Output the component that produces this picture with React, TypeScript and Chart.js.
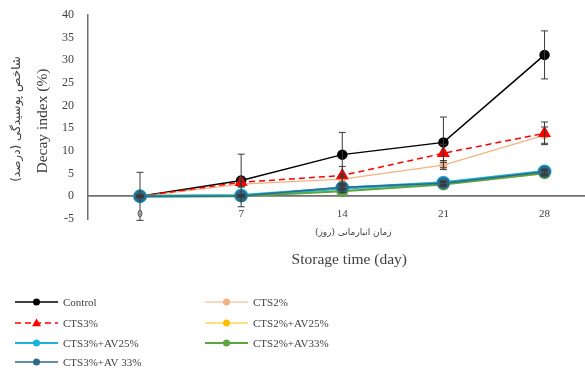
import React, { useEffect, useRef } from "react";
import { Chart, registerables } from "chart.js";
Chart.register(...registerables);

const days = [0, 7, 14, 21, 28];
const xTicks = [0, 7, 14, 21, 28];
const yTicks = [-5, 0, 5, 10, 15, 20, 25, 30, 35, 40];

const seriesNames = [
  "Control",
  "CTS2%",
  "CTS3%",
  "CTS2%+AV25%",
  "CTS3%+AV25%",
  "CTS2%+AV33%",
  "CTS3%+AV 33%",
];

const control = [0, 3.5, 9.2, 11.9, 31.2];
const cts2 = [0, 2.7, 3.8, 6.9, 13.5];
const cts3 = [0, 3.1, 4.6, 9.5, 13.9];
const cts2av25 = [0, 0.2, 1.2, 2.7, 5.0];
const cts3av25 = [0, 0.2, 1.8, 3.0, 5.5];
const cts2av33 = [0, 0, 1.1, 2.6, 5.1];
const cts3av33 = [0, 0.1, 2.0, 2.9, 5.4];

const controlErr = [5.3, 5.8, 4.9, 5.6, 5.3];
const cts2Err = [0.3, 0.6, 1.0, 1.0, 1.8];
const cts3Err = [0.3, 1.0, 2.0, 2.0, 2.5];
const smallErr = [0.1, 0.2, 0.3, 0.4, 0.5];

const values = [control, cts2, cts3, cts2av25, cts3av25, cts2av33, cts3av33];
const errors = [controlErr, cts2Err, cts3Err, smallErr, smallErr, smallErr, smallErr];

const colors = ["#000000", "#F4B183", "#FF0000", "#FFC000", "#19B4D8", "#5DA544", "#2E6A8A"];
const pointStyles = ["circle", "circle", "triangle", "circle", "circle", "circle", "circle"];
const pointRadii = [4.5, 3.5, 6, 3.5, 5.5, 5, 5.5];
const lineWidths = [1.5, 1.2, 1.5, 1.2, 3, 2, 1.5];
const dashes: number[][] = [[], [], [6, 4], [], [], [], []];

const xTitleFa = "زمان انبارمانی (روز)";
const xTitleEn = "Storage time (day)";
const yTitleFa = "شاخص پوسیدگی (درصد)";
const yTitleEn = "Decay index (%)";

const serif = "'Liberation Serif', 'DejaVu Serif', serif";
const faFont = "'DejaVu Sans', 'Noto Sans', sans-serif";

const errorBarPlugin = {
  id: "errorBars",
  afterDatasetsDraw(chart: any) {
    const ctx = chart.ctx;
    const xs = chart.scales.x;
    const ys = chart.scales.y;
    ctx.save();
    ctx.strokeStyle = "#3a3a3a";
    ctx.lineWidth = 1;
    errors.forEach((errs, di) => {
      errs.forEach((e, i) => {
        const x = xs.getPixelForValue(days[i]);
        const v = values[di][i];
        const yt = ys.getPixelForValue(v + e);
        const yb = ys.getPixelForValue(v - e);
        ctx.beginPath();
        ctx.moveTo(x, yt);
        ctx.lineTo(x, yb);
        ctx.moveTo(x - 3.5, yt);
        ctx.lineTo(x + 3.5, yt);
        ctx.moveTo(x - 3.5, yb);
        ctx.lineTo(x + 3.5, yb);
        ctx.stroke();
      });
    });
    ctx.restore();
  },
};

const textPlugin = {
  id: "texts",
  afterDraw(chart: any) {
    const ctx = chart.ctx;
    const xs = chart.scales.x;
    const area = chart.chartArea;
    ctx.save();
    ctx.fillStyle = "#404040";
    ctx.textAlign = "center";
    ctx.textBaseline = "middle";
    const cx = xs.getPixelForValue(14);
    ctx.font = `9px ${faFont}`;
    ctx.fillText(xTitleFa, cx + 11, area.bottom + 14);
    ctx.font = `15.5px ${serif}`;
    ctx.fillText(xTitleEn, cx + 7, area.bottom + 41);
    const cy = (area.top + area.bottom) / 2;
    ctx.save();
    ctx.translate(17, cy + 2);
    ctx.rotate(-Math.PI / 2);
    ctx.font = `12px ${faFont}`;
    ctx.fillText(yTitleFa, 0, 0);
    ctx.restore();
    ctx.save();
    ctx.translate(43, cy + 4);
    ctx.rotate(-Math.PI / 2);
    ctx.font = `15.5px ${serif}`;
    ctx.fillText(yTitleEn, 0, 0);
    ctx.restore();

    // legend (two columns)
    ctx.font = `11px ${serif}`;
    ctx.textAlign = "left";
    const rowY = [302, 323, 343, 362];
    const colX = [15, 205];
    chart.data.datasets.forEach((ds: any, i: number) => {
      const col = i % 2;
      const row = Math.floor(i / 2);
      const x0 = colX[col];
      const y = rowY[row];
      ctx.save();
      ctx.strokeStyle = ds.borderColor;
      ctx.lineWidth = Math.min(ds.borderWidth, 2);
      ctx.setLineDash(ds.borderDash || []);
      ctx.beginPath();
      ctx.moveTo(x0, y);
      ctx.lineTo(x0 + 43, y);
      ctx.stroke();
      ctx.restore();
      const style = ds.pointStyle;
      ctx.fillStyle = ds.pointBackgroundColor;
      ctx.beginPath();
      if (style === "triangle") {
        const r = 4.5;
        ctx.moveTo(x0 + 21.5, y - r);
        ctx.lineTo(x0 + 21.5 + r, y + r * 0.7);
        ctx.lineTo(x0 + 21.5 - r, y + r * 0.7);
        ctx.closePath();
      } else {
        ctx.arc(x0 + 21.5, y, 3.5, 0, Math.PI * 2);
      }
      ctx.fill();
      ctx.fillStyle = "#404040";
      ctx.fillText(ds.label, x0 + 48, y + 1);
    });
    ctx.restore();
  },
};

export default function App() {
  const ref = useRef<HTMLCanvasElement>(null);
  useEffect(() => {
    if (!ref.current) return;
    const chart = new Chart(ref.current, {
      type: "line",
      data: {
        datasets: seriesNames.map((name, i) => ({
          label: name,
          data: days.map((d, j) => ({ x: d, y: values[i][j] })),
          borderColor: colors[i],
          backgroundColor: colors[i],
          pointBackgroundColor: colors[i],
          pointBorderColor: colors[i],
          pointStyle: pointStyles[i] as any,
          pointRadius: pointRadii[i],
          borderWidth: lineWidths[i],
          borderDash: dashes[i],
          tension: 0,
          order: seriesNames.length - i,
        })),
      },
      options: {
        animation: false,
        responsive: false,
        maintainAspectRatio: false,
        layout: { autoPadding: false, padding: { left: 0, right: 0, top: 15, bottom: 151 } },
        plugins: { legend: { display: false }, tooltip: { enabled: false } },
        scales: {
          x: {
            type: "linear",
            position: { y: 0 } as any,
            min: -3.6,
            max: 30.8,
            afterBuildTicks: (s: any) => {
              s.ticks = xTicks.map((v) => ({ value: v }));
            },
            afterFit: (s: any) => {
              s.paddingLeft = 0;
              s.paddingRight = 0;
            },
            grid: { display: false, drawTicks: false },
            border: { display: true, color: "#707070", width: 1.8 },
            ticks: {
              padding: 11,
              color: "#404040",
              font: { family: serif, size: 11 },
              autoSkip: false,
              maxRotation: 0,
            },
          },
          y: {
            type: "linear",
            min: -5,
            max: 40,
            afterBuildTicks: (s: any) => {
              s.ticks = yTicks.map((v) => ({ value: v }));
            },
            afterFit: (s: any) => {
              s.width = 88;
              s.paddingTop = 0;
              s.paddingBottom = 0;
            },
            grid: { display: false, drawTicks: false },
            border: { display: true, color: "#707070", width: 1.5 },
            ticks: {
              padding: 14,
              color: "#404040",
              font: { family: serif, size: 12 },
            },
          },
        },
      },
      plugins: [errorBarPlugin, textPlugin],
    });
    return () => chart.destroy();
  }, []);
  return (
    <div style={{ position: "absolute", left: 0, top: 0, width: 585, height: 370, background: "#fff" }}>
      <canvas ref={ref} width={585} height={370} style={{ display: "block" }} />
    </div>
  );
}
